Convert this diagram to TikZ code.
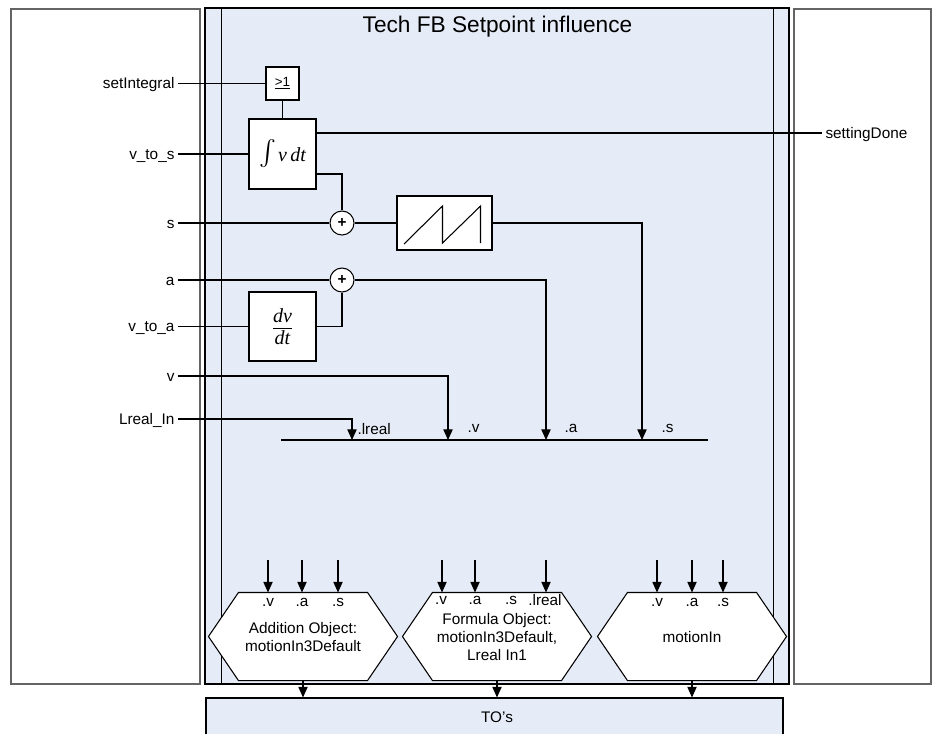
\documentclass[tikz,border=0pt]{standalone}
\usepackage{fontspec}
\setmainfont{Liberation Sans}
\newfontfamily\serifit{Liberation Serif}[ItalicFont={Liberation Serif Italic}]
\usetikzlibrary{arrows.meta}
\definecolor{panelblue}{RGB}{230,236,247}
\definecolor{framegray}{RGB}{100,100,100}
\newcommand\lblsz{\fontsize{11.5}{13.5}\selectfont}
\begin{document}
\begin{tikzpicture}[x=0.75pt,y=-0.75pt, line width=0.8pt,
  arr/.style={draw=black,-{Triangle[length=8pt,width=7pt]}},
  block/.style={draw=black,fill=white,inner sep=0pt},
  sumnode/.style={circle,draw=black,fill=white,minimum size=18pt,inner sep=0pt,font=\bfseries\lblsz},
  sig/.style={font=\lblsz,inner sep=2.25pt,text height=8.2pt,text depth=0pt},
  port/.style={font=\lblsz,inner sep=0pt},
  side/.style={draw=framegray,fill=white,inner sep=0pt,line width=1pt},
  hexshape/.style={minimum width=96pt,minimum height=65.25pt,inner sep=0pt},
  hexline/.style={draw=black,fill=white},
  hextext/.style={align=center,font=\lblsz},
]
\useasboundingbox (0,0) rectangle (942,733);
\clip (0,0) rectangle (942,733);

% side panels and the function block frame
\node[side,minimum width=141.75pt,minimum height=506.25pt] (leftpanel) at (105.5,346.5) {};
\node[side,minimum width=102.75pt,minimum height=506.25pt] (rightpanel) at (862.5,346.5) {};
\node[draw=black,fill=panelblue,minimum width=438pt,minimum height=507pt,inner sep=0pt] (fb) at (497,346) {};
\draw ([xshift=12.75pt]fb.north west) -- ([xshift=12.75pt]fb.south west);
\draw ([xshift=-12pt]fb.north east) -- ([xshift=-12pt]fb.south east);
\node[font=\fontsize{17}{20}\selectfont,anchor=base,inner sep=0pt] (title) at (497.5,32.5) {Tech FB Setpoint influence};

% technology objects bar
\node[draw=black,fill=panelblue,minimum width=432.75pt,minimum height=30.75pt,inner sep=0pt] (tos) at (494.5,718.5) {};
\node[font=\lblsz] (toslabel) at (497,717) {TO's};

% processing blocks
\node[block,minimum width=24.75pt,minimum height=24.75pt,font=\fontsize{10}{12}\selectfont] (gate) at (282.5,83.5) {\underline{>1}};
\node[block,minimum width=50.25pt,minimum height=52.5pt] (integ) at (282.5,154)
  {\raisebox{1pt}{\scalebox{1.9}{$\int$}}\hspace{1.5pt}{\serifit\itshape\fontsize{15}{18}\selectfont v\hspace{2.5pt}dt}};
\node[sumnode] (sum1) at (342,223) {+};
\node[block,minimum width=71.25pt,minimum height=40.5pt] (saw) at (444.5,223) {};
\node[sumnode] (sum2) at (342,280) {+};
\node[block,minimum width=50.25pt,minimum height=51.75pt] (deriv) at (282.5,326.5)
  {$\displaystyle\frac{\mbox{\serifit\itshape\fontsize{15}{18}\selectfont dv}}{\mbox{\serifit\itshape\fontsize{15}{18}\selectfont dt}}$};

% sawtooth symbol
\draw ([shift={(-40.5,21)}]saw.center) -- ++(38.5,-38) -- ++(0,37) -- ++(38,-37) -- ++(0,37);

% input and output signals
\node[sig,anchor=east] (lSetInt) at (178,83.5) {setIntegral};
\node[sig,anchor=east] (lVtoS) at (178,154) {v\_to\_s};
\node[sig,anchor=east] (lS) at (178,223) {s};
\node[sig,anchor=east] (lA) at (178,280) {a};
\node[sig,anchor=east] (lVtoA) at (178,326.5) {v\_to\_a};
\node[sig,anchor=east] (lV) at (178,376) {v};
\node[sig,anchor=east] (lLreal) at (178,419) {Lreal\_In};
\node[sig,anchor=west] (lDone) at (822,133) {settingDone};

% structure bus
\coordinate (busL) at (281,440);
\coordinate (busR) at (708,440);
\coordinate (pL) at (352,440);
\coordinate (pV) at (448,440);
\coordinate (pA) at (546,440);
\coordinate (pS) at (642,440);
\draw (busL) -- (busR);
\node[port,anchor=west] (bL) at (357,429) {.lreal};
\node[port,anchor=west] (bV) at (467,428) {.v};
\node[port,anchor=west] (bA) at (564,428) {.a};
\node[port,anchor=west] (bS) at (661,428) {.s};

% wiring
\draw (lSetInt.east) -- (gate.west);
\draw (gate.south) -- (integ.north);
\draw (lVtoS.east) -- (integ.west);
\draw (integ.east |- lDone.west) -- (lDone.west);
\draw ([yshift=-15pt]integ.east) -| (sum1.north);
\draw (lS.east) -- (sum1.west);
\draw (sum1.east) -- (saw.west);
\draw[arr] (saw.east) -| (pS);
\draw (lA.east) -- (sum2.west);
\draw[arr] (sum2.east) -| (pA);
\draw (lVtoA.east) -- (deriv.west);
\draw (deriv.east) -| (sum2.south);
\draw[arr] (lV.east) -| (pV);
\draw[arr] (lLreal.east) -| (pL);

% target objects
\node[hexshape] (hexA) at (303,636.5) {};
\node[hexshape] (hexB) at (497,636.5) {};
\node[hexshape] (hexC) at (692,636.5) {};
\foreach \h in {hexA,hexB,hexC}
  \draw[hexline] (\h.north west) -- (\h.north east) -- ([xshift=22.5pt]\h.east)
    -- (\h.south east) -- (\h.south west) -- ([xshift=-22.5pt]\h.west) -- cycle;
\node[hextext] (hexAtext) at (303,637) {Addition Object:\\motionIn3Default};
\node[hextext] (hexBtext) at (497,637) {Formula Object:\\motionIn3Default,\\Lreal In1};
\node[hextext] (hexCtext) at (692,637) {motionIn};

% inputs of the target objects
\foreach \x/\t [count=\i] in {268/.v,302/.a,338/.s} {
  \coordinate (inA\i) at (\x,560);
  \draw[arr] (inA\i) -- (inA\i |- hexA.north);
  \node[port] (ptA\i) at (\x,602) {\t};
}
\foreach \x/\t [count=\i] in {442/.v,475/.a,546/.lreal} {
  \coordinate (inB\i) at (\x,560);
  \draw[arr] (inB\i) -- (inB\i |- hexB.north);
}
\foreach \x/\t [count=\i] in {441/.v,475/.a,511/.s,545/.lreal}
  \node[port] (ptB\i) at (\x,600) {\t};
\foreach \x/\t [count=\i] in {657/.v,692/.a,723/.s} {
  \coordinate (inC\i) at (\x,560);
  \draw[arr] (inC\i) -- (inC\i |- hexC.north);
  \node[port] (ptC\i) at (\x,602) {\t};
}

% outputs to the technology objects
\foreach \h in {hexA,hexB,hexC}
  \draw[arr] (\h.south) -- (\h.south |- tos.north);
\end{tikzpicture}
\end{document}
